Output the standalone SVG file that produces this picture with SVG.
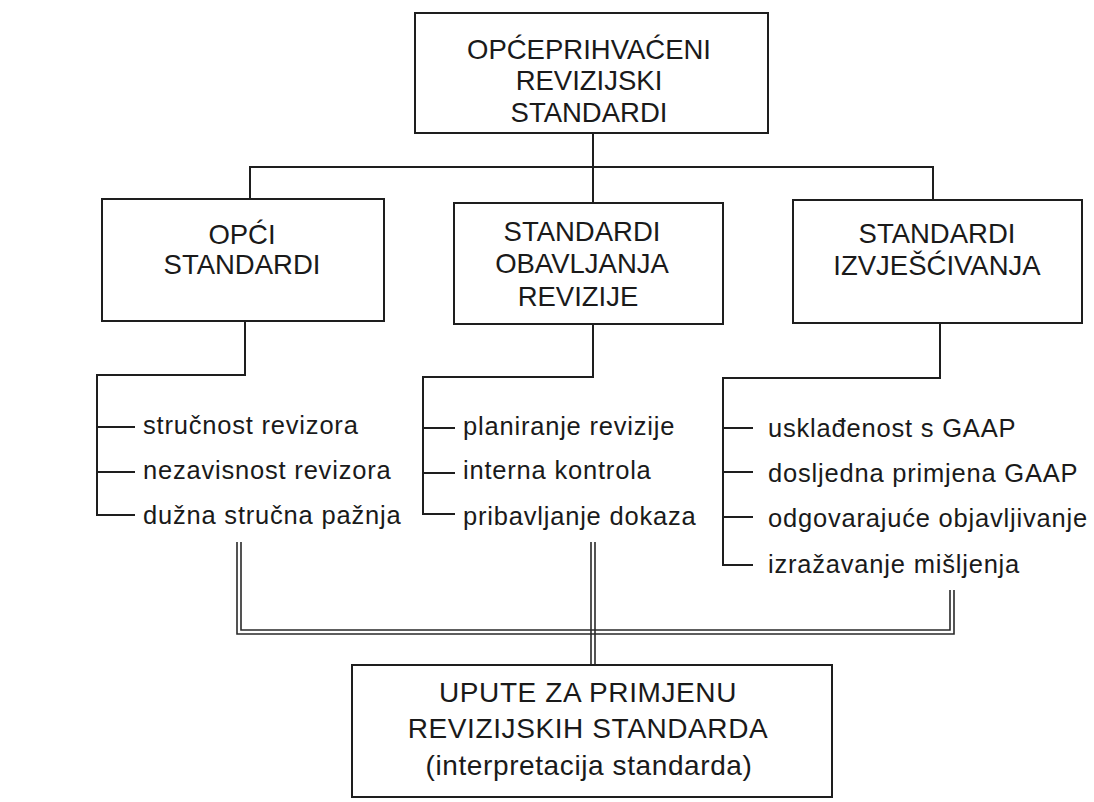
<svg xmlns="http://www.w3.org/2000/svg" width="1094" height="802" viewBox="0 0 1094 802">
<style>
.box{fill:#fff;stroke:#1e1e1e;stroke-width:2}
.ln{fill:none;stroke:#1e1e1e;stroke-width:2}
.dl{fill:none;stroke:#2a2a2a;stroke-width:1.6}
.h{font-family:"Liberation Sans",Arial,sans-serif;font-size:27.5px;fill:#1a1a1a;text-anchor:middle}
.b{font-family:"Liberation Sans",Arial,sans-serif;font-size:28px;fill:#1a1a1a;text-anchor:middle;letter-spacing:0.6px}
.li{font-family:"Liberation Sans",Arial,sans-serif;font-size:25.5px;fill:#1a1a1a;letter-spacing:0.8px}
</style>
<rect width="1094" height="802" fill="#fff"/>
<g id="connectors">
<path class="ln" d="M593,133 V203"/>
<path class="ln" d="M250,199 V167 H933 V200"/>
<path class="ln" d="M245,321 V375 H97 V515 H135 M97,427 H135 M97,472 H135"/>
<path class="ln" d="M593,324 V377 H423 V514 H455 M423,428 H455 M423,473 H455"/>
<path class="ln" d="M940,323 V378 H723 V565 H753 M723,428 H753 M723,472 H753 M723,517 H753"/>
<path class="dl" d="M237,542 V634 H954 V590"/>
<path class="dl" d="M241,542 V630 H950 V590"/>
<path class="dl" d="M591,542 V665 M595,542 V665"/>
</g>
<g id="top">
<rect class="box" x="415" y="13" width="353" height="120"/>
<text class="h" x="589" y="59">OPĆEPRIHVAĆENI</text>
<text class="h" x="589" y="90">REVIZIJSKI</text>
<text class="h" x="589" y="122">STANDARDI</text>
</g>
<g id="opci">
<rect class="box" x="102" y="199" width="282" height="122"/>
<text class="h" x="242" y="244">OPĆI</text>
<text class="h" x="242" y="274">STANDARDI</text>
</g>
<g id="obavljanja">
<rect class="box" x="454" y="203" width="269" height="121"/>
<text class="h" x="582" y="241">STANDARDI</text>
<text class="h" x="582" y="273">OBAVLJANJA</text>
<text class="h" x="578" y="306">REVIZIJE</text>
</g>
<g id="izvjescivanja">
<rect class="box" x="793" y="200" width="289" height="123"/>
<text class="h" x="937" y="243">STANDARDI</text>
<text class="h" x="937" y="275">IZVJEŠĆIVANJA</text>
</g>
<g id="list-opci">
<text class="li" x="143" y="434">stručnost revizora</text>
<text class="li" x="143" y="479">nezavisnost revizora</text>
<text class="li" x="143" y="524">dužna stručna pažnja</text>
</g>
<g id="list-obavljanja">
<text class="li" x="463" y="435">planiranje revizije</text>
<text class="li" x="463" y="479">interna kontrola</text>
<text class="li" x="463" y="525">pribavljanje dokaza</text>
</g>
<g id="list-izvjescivanja">
<text class="li" x="768" y="437">usklađenost s GAAP</text>
<text class="li" x="768" y="482">dosljedna primjena GAAP</text>
<text class="li" x="768" y="527">odgovarajuće objavljivanje</text>
<text class="li" x="768" y="573">izražavanje mišljenja</text>
</g>
<g id="upute">
<rect class="box" x="352" y="665" width="480" height="132"/>
<text class="b" x="588" y="702">UPUTE ZA PRIMJENU</text>
<text class="b" x="588" y="738">REVIZIJSKIH STANDARDA</text>
<text class="b" x="589" y="775">(interpretacija standarda)</text>
</g>
</svg>
